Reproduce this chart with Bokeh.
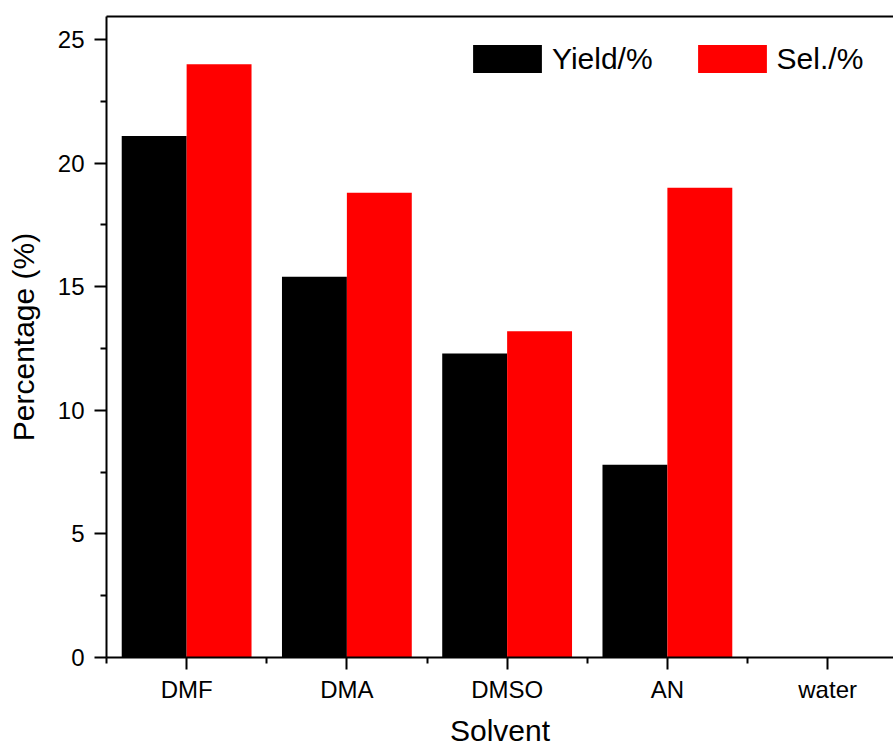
from bokeh.plotting import figure
from bokeh.models import (ColumnDataSource, FixedTicker, Range1d, LinearAxis,
                          Legend, LegendItem)
from bokeh.transform import dodge
from bokeh.embed import file_html
from bokeh.resources import INLINE

# ---- data ----
solvents = ["DMF", "DMA", "DMSO", "AN", "water"]
positions = [1, 2, 3, 4, 5]
yield_pct = [21.1, 15.4, 12.3, 7.8, 0.0]
sel_pct = [24.0, 18.8, 13.2, 19.0, 0.0]
y_ticks = [0, 5, 10, 15, 20, 25]
y_minor = [2.5, 7.5, 12.5, 17.5, 22.5]
x_minor = [0.5, 1.5, 2.5, 3.5, 4.5, 5.5]

src = ColumnDataSource(dict(x=positions, yld=yield_pct, sel=sel_pct))

FONT = "Liberation Sans"
BAR_W = 0.405

p = figure(width=893, height=749, output_backend="svg", toolbar_location=None,
           x_range=Range1d(0.5, 5.411), y_range=Range1d(0, 25.93),
           min_border_left=106, min_border_right=0, min_border_top=16,
           min_border_bottom=92, background_fill_color="white",
           border_fill_color="white")
p.outline_line_color = None
p.xgrid.visible = False
p.ygrid.visible = False

r1 = p.vbar(x=dodge("x", -BAR_W / 2), top="yld", width=BAR_W, source=src,
            fill_color="#000000", line_color=None)
r2 = p.vbar(x=dodge("x", BAR_W / 2), top="sel", width=BAR_W, source=src,
            fill_color="#FF0000", line_color=None)

# x axis
xa = p.xaxis[0]
xa.ticker = FixedTicker(ticks=positions, minor_ticks=x_minor)
xa.major_label_overrides = {pos: s for pos, s in zip(positions, solvents)}
xa.axis_label = "Solvent"
# y axis
ya = p.yaxis[0]
ya.ticker = FixedTicker(ticks=y_ticks, minor_ticks=y_minor)
ya.axis_label = "Percentage (%)"

for ax in (xa, ya):
    ax.axis_line_color = "black"
    ax.axis_line_width = 2
    ax.major_tick_line_color = "black"
    ax.major_tick_line_width = 2
    ax.minor_tick_line_color = "black"
    ax.minor_tick_line_width = 2
    ax.major_tick_in = 0
    ax.major_tick_out = 12
    ax.minor_tick_in = 0
    ax.minor_tick_out = 6
    ax.major_label_text_font = FONT
    ax.major_label_text_font_size = "24px"
    ax.major_label_text_color = "black"
    ax.axis_label_text_font = FONT
    ax.axis_label_text_font_size = "30px"
    ax.axis_label_text_font_style = "normal"
    ax.axis_label_text_color = "black"

xa.major_label_standoff = 6
xa.axis_label_standoff = 8
ya.major_label_standoff = 10
ya.axis_label_standoff = 15

# top frame line
top = LinearAxis(ticker=FixedTicker(ticks=[]), axis_line_color="black",
                 axis_line_width=2, major_tick_out=0, major_tick_in=0,
                 minor_tick_out=0, minor_tick_in=0,
                 major_label_text_font_size="0px", major_label_standoff=0)
p.add_layout(top, "above")

legend = Legend(items=[LegendItem(label="Yield/%", renderers=[r1]),
                       LegendItem(label="Sel./%", renderers=[r2])],
                orientation="horizontal", location=(358, 581),
                glyph_width=86, glyph_height=35, label_standoff=2,
                spacing=36, padding=0, margin=0,
                label_text_font=FONT, label_text_font_size="30px",
                label_text_color="black",
                border_line_color=None, background_fill_alpha=0)
p.add_layout(legend)

open("out.html", "w").write(file_html(p, INLINE))
